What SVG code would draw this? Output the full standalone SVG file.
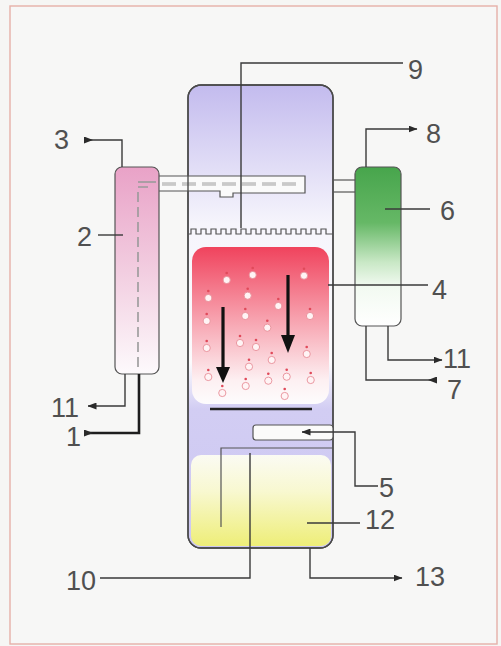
<svg xmlns="http://www.w3.org/2000/svg" width="501" height="646" viewBox="0 0 501 646">
  <style>
    .lbl { font-family: "Liberation Sans", Arial, sans-serif; font-size: 27px; fill: #505050; }
    .wall { stroke: #4a4a4a; stroke-width: 1.4; }
    .ln { fill: none; stroke: #3a3a3a; stroke-width: 1.4; }
    .thin { fill: none; stroke: #555; stroke-width: 1.2; }
    .dash { fill: none; stroke: #9a9a9a; stroke-width: 1.6; stroke-dasharray: 10 5; }
  </style>
  <defs>
    <linearGradient id="gVessel" x1="0" y1="85" x2="0" y2="548" gradientUnits="userSpaceOnUse">
      <stop offset="0" stop-color="#c3bbee"/>
      <stop offset="0.3" stop-color="#f6f5fc"/>
      <stop offset="0.6" stop-color="#fbfbfd"/>
      <stop offset="0.7" stop-color="#d2cdf3"/>
      <stop offset="1" stop-color="#cdc8f2"/>
    </linearGradient>
    <linearGradient id="gRed" x1="0" y1="0" x2="0" y2="1">
      <stop offset="0" stop-color="#f0435d"/>
      <stop offset="0.45" stop-color="#f7a0ad"/>
      <stop offset="0.85" stop-color="#fdf0f2"/>
      <stop offset="1" stop-color="#fdfcfd"/>
    </linearGradient>
    <linearGradient id="gYellow" x1="0" y1="0" x2="0" y2="1">
      <stop offset="0" stop-color="#fbfbf3"/>
      <stop offset="0.4" stop-color="#f8f8d0"/>
      <stop offset="1" stop-color="#eeee78"/>
    </linearGradient>
    <linearGradient id="gPink" x1="0" y1="0" x2="0" y2="1">
      <stop offset="0" stop-color="#e9a2c7"/>
      <stop offset="0.5" stop-color="#f2cde0"/>
      <stop offset="1" stop-color="#fdfafc"/>
    </linearGradient>
    <linearGradient id="gGreen" x1="0" y1="0" x2="0" y2="1">
      <stop offset="0" stop-color="#47a54c"/>
      <stop offset="0.35" stop-color="#66b866"/>
      <stop offset="0.6" stop-color="#c9e8c6"/>
      <stop offset="0.75" stop-color="#f2faf1"/>
      <stop offset="1" stop-color="#ffffff"/>
    </linearGradient>
    <!-- arrowhead with its tip on the path end -->
    <marker id="ahEnd" markerWidth="9" markerHeight="7" refX="8.5" refY="3.5" orient="auto" markerUnits="userSpaceOnUse">
      <path d="M0,0 L9,3.5 L0,7 z" fill="#2a2a2a"/>
    </marker>
    <!-- arrowhead with its base on the path start, pointing along the path -->
    <marker id="ahStart" markerWidth="9" markerHeight="7" refX="0" refY="3.5" orient="auto" markerUnits="userSpaceOnUse">
      <path d="M0,0 L9,3.5 L0,7 z" fill="#2a2a2a"/>
    </marker>
    <g id="bubble">
      <circle cx="0" cy="0" r="3.6" fill="#fff4f5" stroke="#e88f98" stroke-width="0.9"/>
      <circle cx="0" cy="-7" r="1.3" fill="#e04a5a"/>
    </g>
  </defs>

  <!-- sheet -->
  <rect x="0" y="0" width="501" height="646" fill="#f6f6f4"/>
  <rect x="10" y="6" width="487" height="638" fill="#f7f7f6" stroke="#e6b0a8" stroke-width="1.4"/>

  <!-- main reactor vessel -->
  <g id="vessel">
    <rect x="188" y="85" width="145" height="463" rx="13" fill="url(#gVessel)" class="wall"/>
    <rect x="191" y="455" width="140" height="91" rx="10" fill="url(#gYellow)"/>
    <rect x="192" y="247" width="137" height="157" rx="14" fill="url(#gRed)"/>
    <rect x="188" y="85" width="145" height="463" rx="13" fill="none" class="wall"/>
    <!-- perforated tray -->
    <path d="M188,234 H191 v-5 h5 v5 h5 v-5 h5 v5 h5 v-5 h5 v5 h5 v-5 h5 v5 h5 v-5 h5 v5 h5 v-5 h5 v5 h5 v-5 h5 v5 h5 v-5 h5 v5 h5 v-5 h5 v5 h5 v-5 h5 v5 h5 v-5 h5 v5 h5 v-5 h5 v5 h5 v-5 h5 v5 h5 v-5 h5 v5 H333" class="thin"/>
    <!-- rising bubbles -->
    <g id="bubbles">
      <use href="#bubble" x="226.7" y="280"/>
      <use href="#bubble" x="252.7" y="275"/>
      <use href="#bubble" x="304" y="275.7"/>
      <use href="#bubble" x="208.3" y="298"/>
      <use href="#bubble" x="247.7" y="295.7"/>
      <use href="#bubble" x="278.3" y="306"/>
      <use href="#bubble" x="310" y="316"/>
      <use href="#bubble" x="206.7" y="321"/>
      <use href="#bubble" x="245.3" y="316"/>
      <use href="#bubble" x="267.3" y="327.7"/>
      <use href="#bubble" x="240" y="343"/>
      <use href="#bubble" x="256" y="347"/>
      <use href="#bubble" x="206.7" y="348"/>
      <use href="#bubble" x="306.7" y="354"/>
      <use href="#bubble" x="271.7" y="360"/>
      <use href="#bubble" x="249" y="366.7"/>
      <use href="#bubble" x="208.3" y="377"/>
      <use href="#bubble" x="268.3" y="380.7"/>
      <use href="#bubble" x="286.7" y="376.7"/>
      <use href="#bubble" x="310.7" y="380"/>
      <use href="#bubble" x="245.7" y="386"/>
      <use href="#bubble" x="222.3" y="393"/>
      <use href="#bubble" x="284.7" y="396"/>
    </g>
    <!-- downward flow arrows -->
    <line x1="223" y1="307" x2="223" y2="370" stroke="#111" stroke-width="3.2"/>
    <path d="M216,367 L230,367 L223,383 z" fill="#111"/>
    <line x1="288" y1="275" x2="288" y2="338" stroke="#111" stroke-width="3.2"/>
    <path d="M281,335 L295,335 L288,353 z" fill="#111"/>
    <!-- bottom baffle -->
    <line x1="210" y1="409" x2="312" y2="409" stroke="#222" stroke-width="2.6"/>
    <!-- gas sparger tube -->
    <rect x="253" y="425" width="80" height="15" rx="3" fill="#fbfbfa" stroke="#555" stroke-width="1.2"/>
    <!-- downcomer -->
    <path d="M221,527 V448 H333" class="thin"/>
  </g>

  <!-- feed distributor pipe -->
  <g id="distributor">
    <path d="M159,176 H305 V193 H233 V197 H220 V191 H159" fill="#fafafa" stroke="#555" stroke-width="1.2"/>
    <line x1="162" y1="184" x2="302" y2="184" stroke="#a4a4a4" stroke-width="3.2" stroke-dasharray="14 6"/>
    <line x1="162" y1="184" x2="302" y2="184" stroke="#eeeeee" stroke-width="1" stroke-dasharray="14 6"/>
    <line x1="188" y1="176" x2="188" y2="191" class="wall"/>
  </g>

  <!-- column 2 -->
  <g id="column-2">
    <rect x="115" y="167" width="44" height="207" rx="7" fill="url(#gPink)" stroke="#555" stroke-width="1.2"/>
    <line x1="138" y1="182" x2="156" y2="182" stroke="#9a9a9a" stroke-width="1.6"/>
    <path d="M148,187 H138 V372" class="dash"/>
  </g>

  <!-- column 6 -->
  <g id="column-6">
    <line x1="333" y1="180" x2="355" y2="180" class="thin"/>
    <line x1="333" y1="192" x2="355" y2="192" class="thin"/>
    <rect x="355" y="167" width="46" height="159" rx="7" fill="url(#gGreen)" stroke="#555" stroke-width="1.2"/>
  </g>

  <!-- connectors and leader lines -->
  <g id="connectors">
    <path d="M84,140 H122 V167" class="ln" marker-start="url(#ahStart)"/>
    <path d="M125,374 V406 H88" class="ln" marker-end="url(#ahEnd)"/>
    <path d="M84,433 H139 V374" fill="none" stroke="#1e1e1e" stroke-width="2.6" marker-start="url(#ahStart)"/>
    <line x1="98" y1="235" x2="123" y2="235" class="ln"/>
    <path d="M241,228 V63 H403" class="ln"/>
    <path d="M366,167 V129 H417" class="ln" marker-end="url(#ahEnd)"/>
    <line x1="385" y1="209" x2="430" y2="209" class="ln"/>
    <line x1="328" y1="285" x2="428" y2="285" class="ln"/>
    <path d="M388,326 V360 H442" class="ln" marker-end="url(#ahEnd)"/>
    <path d="M437,380 H366 V326" class="ln" marker-start="url(#ahStart)"/>
    <path d="M378,486 H355 V432 H302" class="ln" marker-end="url(#ahEnd)"/>
    <line x1="307" y1="523" x2="360" y2="523" class="ln"/>
    <path d="M250,453 V578 H100" class="ln"/>
    <path d="M310,548 V578 H402" class="ln" marker-end="url(#ahEnd)"/>
  </g>

  <!-- stream and unit numbers -->
  <g id="labels">
    <text class="lbl" x="408" y="79">9</text>
    <text class="lbl" x="54" y="149">3</text>
    <text class="lbl" x="426" y="143">8</text>
    <text class="lbl" x="440" y="220">6</text>
    <text class="lbl" x="77" y="246">2</text>
    <text class="lbl" x="432" y="299">4</text>
    <text class="lbl" x="443" y="368">11</text>
    <text class="lbl" x="447" y="399">7</text>
    <text class="lbl" x="51" y="417">11</text>
    <text class="lbl" x="66" y="446">1</text>
    <text class="lbl" x="379" y="497">5</text>
    <text class="lbl" x="365" y="529">12</text>
    <text class="lbl" x="66" y="590">10</text>
    <text class="lbl" x="415" y="586">13</text>
  </g>
</svg>
